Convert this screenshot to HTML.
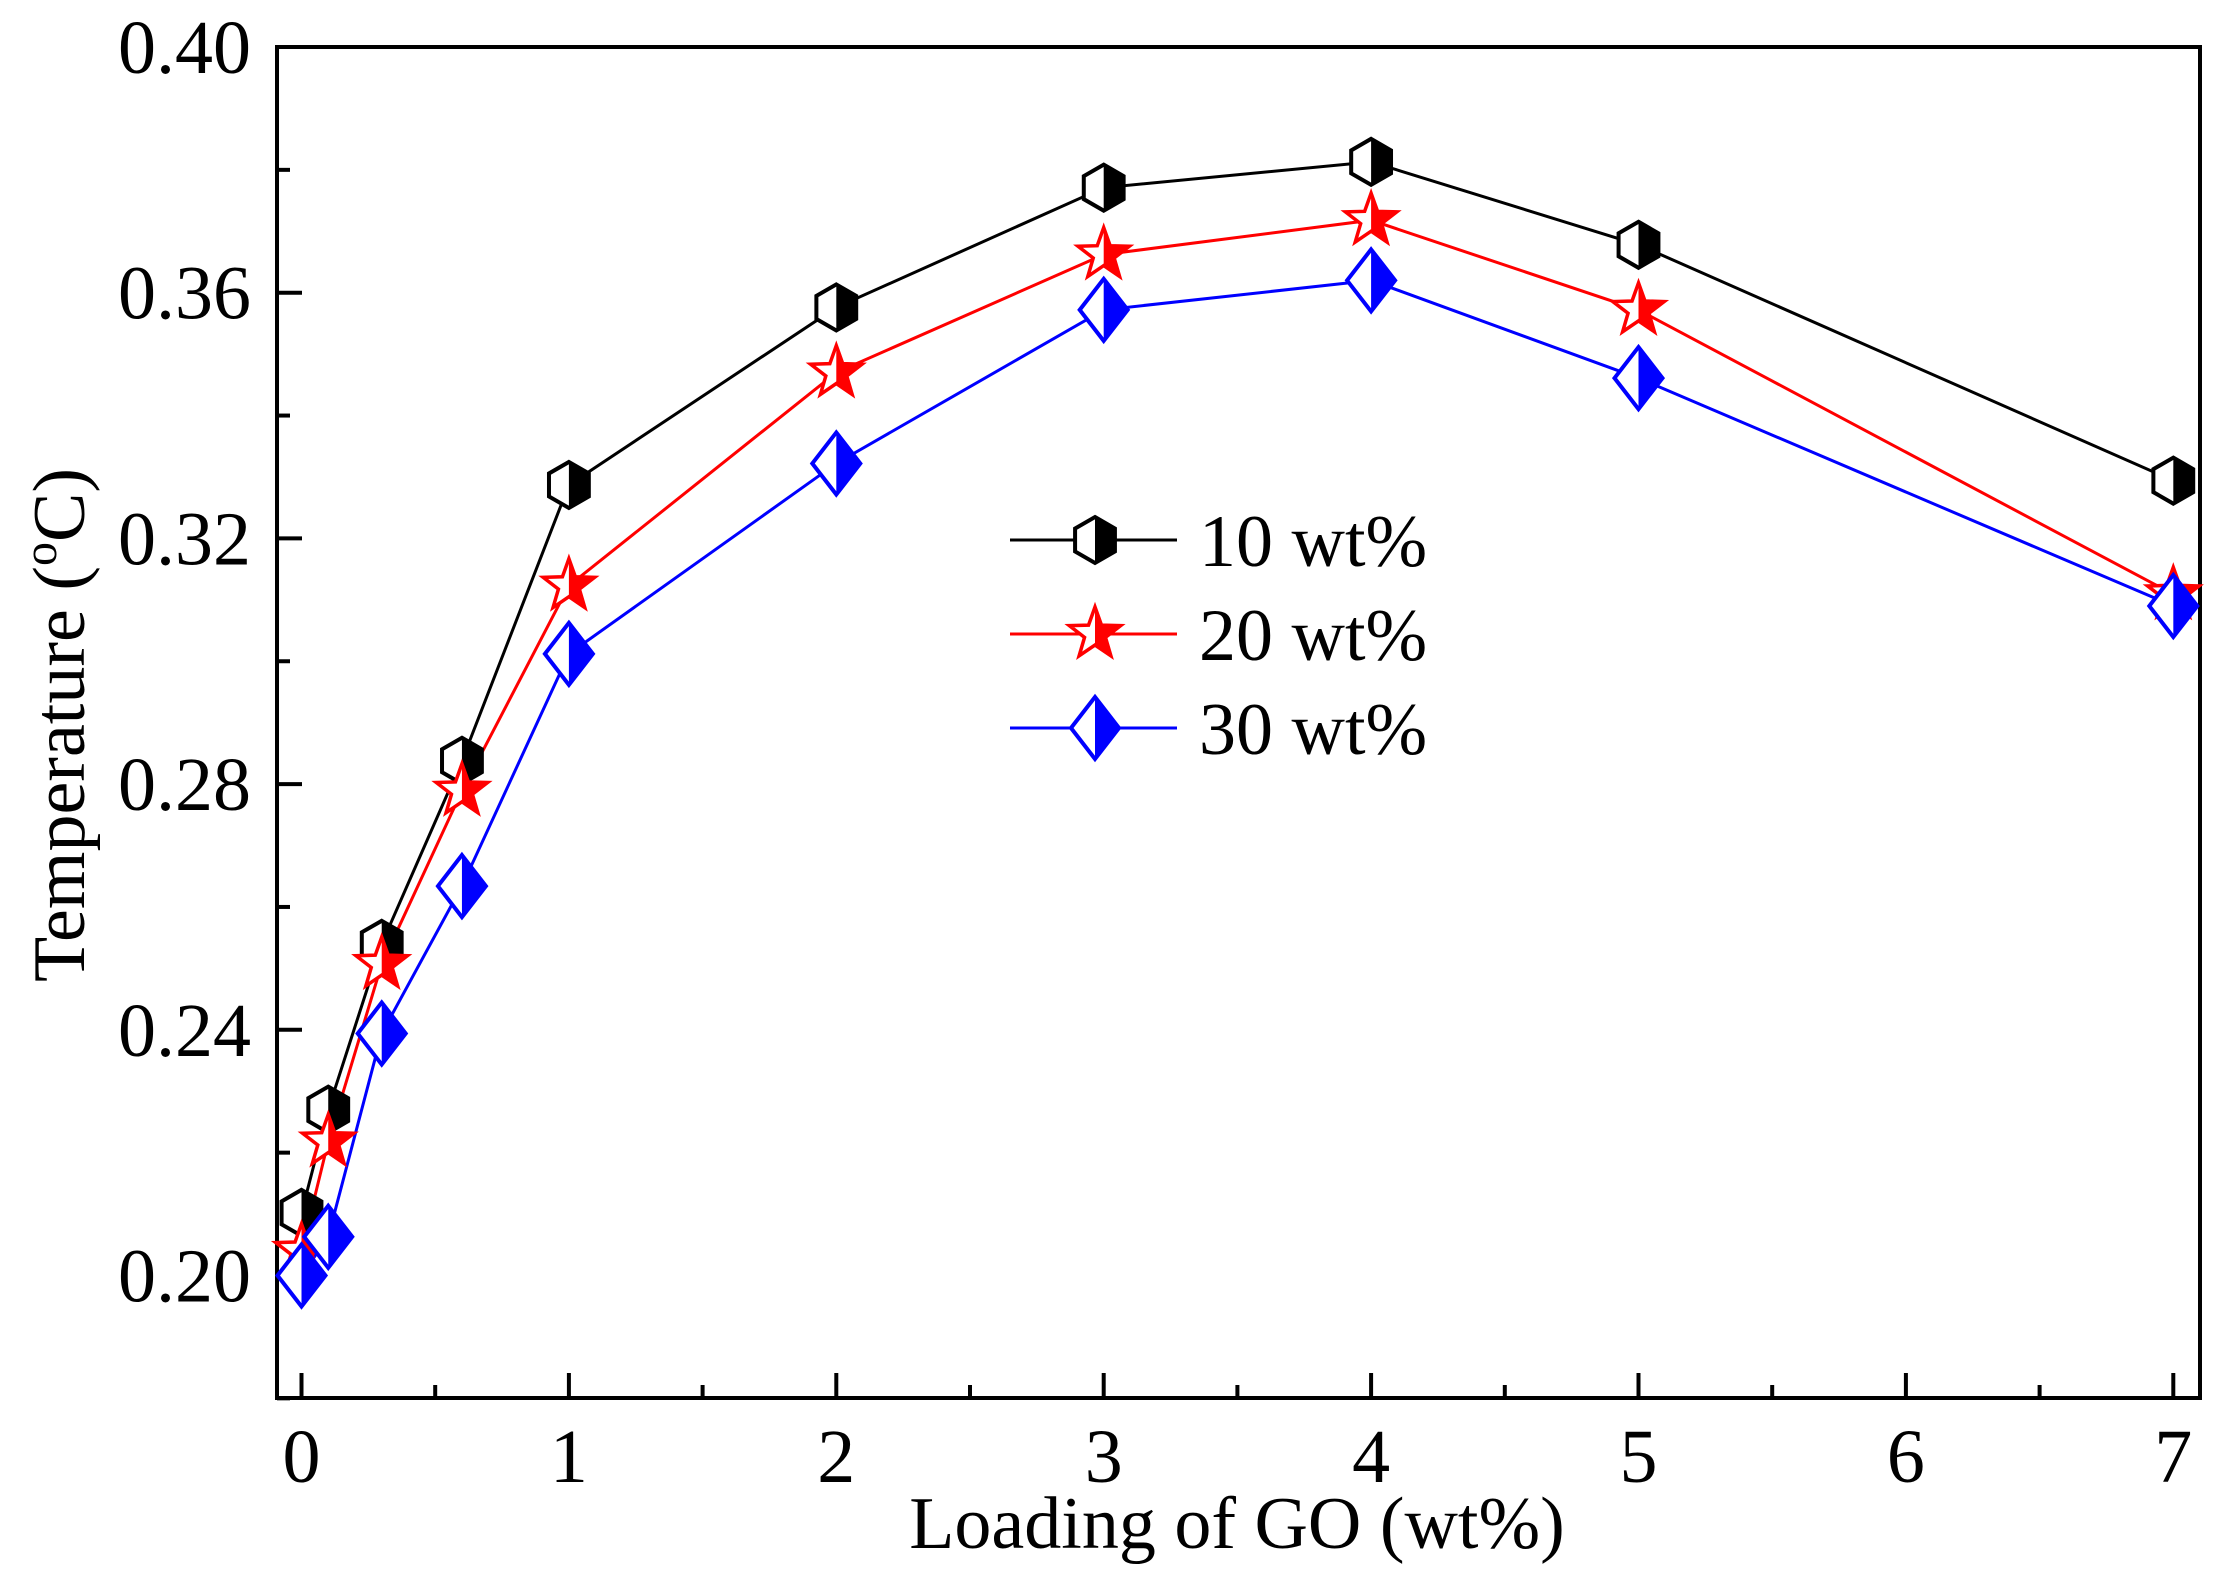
<!DOCTYPE html>
<html><head><meta charset="utf-8"><style>
html,body{margin:0;padding:0;background:#fff;}
svg{display:block;font-family:"Liberation Serif",serif;}
</style></head><body>
<svg id="s" width="2230" height="1574" xmlns="http://www.w3.org/2000/svg"></svg>
<script>
const S=document.getElementById('s');
const L=277,R=2200,T=47,B=1398;
const X=v=>301.5+v*267.4;
const Y=v=>1275.5-(v-0.20)/0.04*245.7;
let h='';
h+=`<rect x="${L}" y="${T}" width="${R-L}" height="${B-T}" fill="none" stroke="#000" stroke-width="4"/>`;
for(let i=0;i<=14;i++){const v=i*0.5;const x=X(v);if(x>R)continue;const len=i%2?13:25;h+=`<line x1="${x}" y1="${B}" x2="${x}" y2="${B-len}" stroke="#000" stroke-width="4"/>`;
 if(i%2==0)h+=`<text x="${x}" y="${B+84}" font-size="76" text-anchor="middle">${v}</text>`;}
for(let i=0;i<=11;i++){const k=18+i*2;const v=k/100;const y=Y(v);if(y<T-1||y>B+1)continue;const maj=(k%4==0);
 h+=`<line x1="${L}" y1="${y}" x2="${L+(maj?25:13)}" y2="${y}" stroke="#000" stroke-width="4"/>`;
 if(maj)h+=`<text x="${251}" y="${y+26}" font-size="76" text-anchor="end">${v.toFixed(2)}</text>`;}
h+=`<text x="1237" y="1548" font-size="74" text-anchor="middle">Loading of GO (wt%)</text>`;
h+=`<text transform="translate(84,725) rotate(-90)" font-size="74" text-anchor="middle">Temperature (<tspan font-size="48" dy="-28">o</tspan><tspan dy="28">C)</tspan></text>`;
const xs=[0,0.1,0.3,0.6,1,2,3,4,5,7];
const data=[
 {c:'#000',m:'hex',y:[0.2102,0.227,0.254,0.2838,0.3287,0.3576,0.3771,0.3813,0.3678,0.3294]},
 {c:'#ff0000',m:'star',y:[0.204,0.2218,0.2507,0.2789,0.3123,0.347,0.3662,0.3718,0.3572,0.3109]},
 {c:'#0000ff',m:'dia',y:[0.20,0.2063,0.2394,0.2634,0.3012,0.3322,0.3572,0.362,0.3461,0.309]}];
function mk(m,x,y,c){
 if(m=='hex'){const r=23,w=r*0.866;
  return `<polygon points="${x},${y-r} ${x+w},${y-r/2} ${x+w},${y+r/2} ${x},${y+r} ${x-w},${y+r/2} ${x-w},${y-r/2}" fill="#fff" stroke="${c}" stroke-width="4"/>`+
  `<polygon points="${x},${y-r} ${x+w},${y-r/2} ${x+w},${y+r/2} ${x},${y+r}" fill="${c}"/>`;}
 if(m=='dia'){const a=24,b=31;
  return `<polygon points="${x},${y-b} ${x+a},${y} ${x},${y+b} ${x-a},${y}" fill="#fff" stroke="${c}" stroke-width="4"/>`+
  `<polygon points="${x},${y-b} ${x+a},${y} ${x},${y+b}" fill="${c}"/>`;}
 let p=[];for(let i=0;i<10;i++){const r=i%2?11:27;const a=-Math.PI/2+i*Math.PI/5;p.push([x+r*Math.cos(a),y+r*Math.sin(a)]);}
 const ps=p.map(q=>q.join(',')).join(' ');
 const rp=[[x,y-27],...p.slice(1,6)].map(q=>q.join(',')).join(' ');
 return `<polygon points="${ps}" fill="#fff" stroke="${c}" stroke-width="3.5"/><polygon points="${rp}" fill="${c}"/>`;
}
data.forEach(d=>{
 h+=`<polyline points="${xs.map((v,i)=>X(v)+','+Y(d.y[i])).join(' ')}" fill="none" stroke="${d.c}" stroke-width="3"/>`;
});
data.forEach(d=>{xs.forEach((v,i)=>{h+=mk(d.m,X(v),Y(d.y[i]),d.c);});});
const labs=['10 wt%','20 wt%','30 wt%'];
data.forEach((d,i)=>{const y=540+i*94;
 h+=`<line x1="1010" y1="${y}" x2="1177" y2="${y}" stroke="${d.c}" stroke-width="3"/>`+mk(d.m,1095,y,d.c)+
 `<text x="1199" y="${y+26}" font-size="74">${labs[i]}</text>`;});
S.innerHTML=h;
</script>
</body></html>
